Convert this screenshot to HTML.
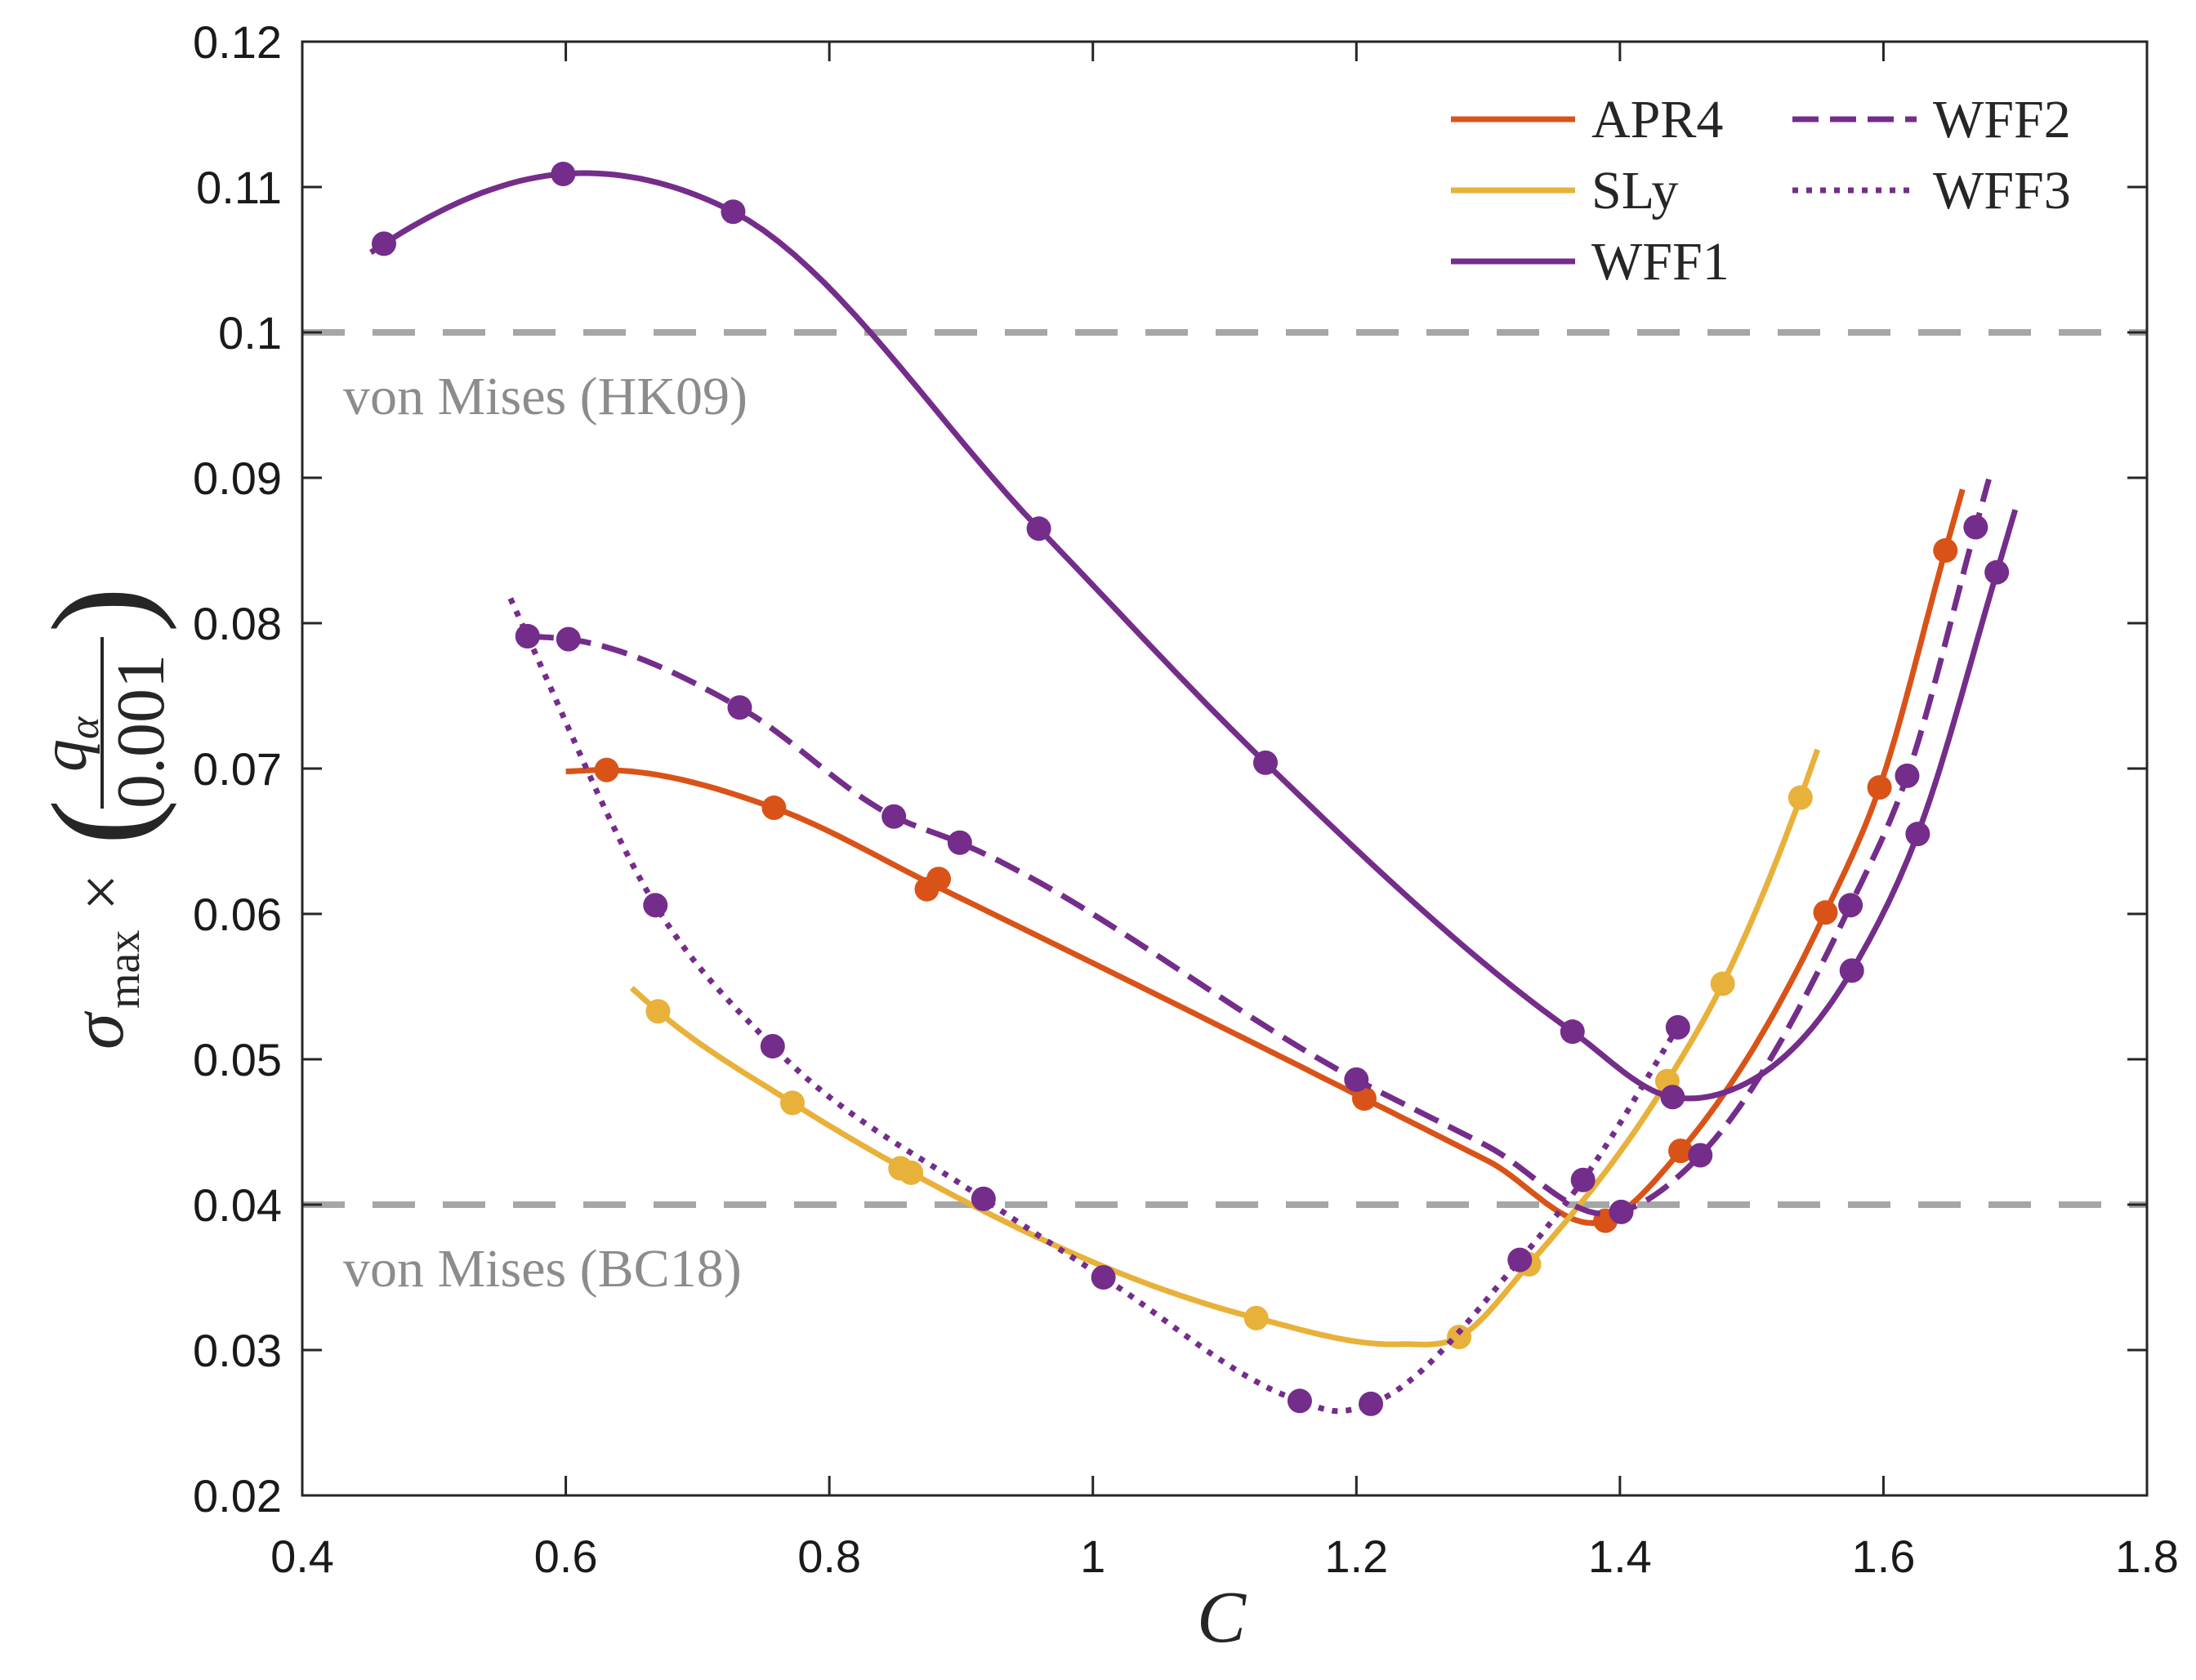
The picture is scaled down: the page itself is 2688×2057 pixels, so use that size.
<!DOCTYPE html>
<html><head><meta charset="utf-8"><style>
html,body{margin:0;padding:0;background:#fff;}
svg{display:block;}
</style></head><body>
<svg id="chart" width="2688" height="2057" viewBox="0 0 2688 2057" xmlns="http://www.w3.org/2000/svg"></svg>
<script>
const xTicks=[0.4,0.6,0.8,1,1.2,1.4,1.6,1.8];
const xTickLabels=["0.4","0.6","0.8","1","1.2","1.4","1.6","1.8"];
const yTicks=[0.02,0.03,0.04,0.05,0.06,0.07,0.08,0.09,0.1,0.11,0.12];
const yTickLabels=["0.02","0.03","0.04","0.05","0.06","0.07","0.08","0.09","0.1","0.11","0.12"];
const refValues=[0.1,0.04];
const refLabels=["von Mises (HK09)","von Mises (BC18)"];
const seriesNames=["APR4","SLy","WFF1","WFF2","WFF3"];
const wff1LineC=[0.452,0.462,0.598,0.727,0.959,1.131,1.364,1.440,1.475,1.576,1.626,1.686,1.700];
const wff1LineV=[0.1055,0.1061,0.1109,0.1083,0.0865,0.0704,0.0519,0.0474,0.0476,0.0561,0.0655,0.0835,0.0878];
const wff1MarkC=[0.462,0.598,0.727,0.959,1.131,1.364,1.440,1.576,1.626,1.686];
const wff1MarkV=[0.1061,0.1109,0.1083,0.0865,0.0704,0.0519,0.0474,0.0561,0.0655,0.0835];
const apr4LineC=[0.600,0.631,0.758,0.879,1.206,1.300,1.389,1.446,1.556,1.597,1.647,1.660];
const apr4LineV=[0.0698,0.0699,0.0673,0.0620,0.0473,0.0430,0.0389,0.0437,0.0601,0.0687,0.0850,0.0892];
const apr4MarkC=[0.631,0.758,0.874,0.883,1.206,1.389,1.446,1.556,1.597,1.647];
const apr4MarkV=[0.0699,0.0673,0.0617,0.0624,0.0473,0.0389,0.0437,0.0601,0.0687,0.0850];
const wff2LineC=[0.571,0.602,0.732,0.849,0.899,1.200,1.300,1.395,1.461,1.575,1.618,1.670,1.680];
const wff2LineV=[0.0791,0.0789,0.0742,0.0667,0.0649,0.0486,0.0440,0.0394,0.0434,0.0606,0.0695,0.0866,0.0899];
const wff2MarkC=[0.571,0.602,0.732,0.849,0.899,1.200,1.401,1.461,1.575,1.618,1.670];
const wff2MarkV=[0.0791,0.0789,0.0742,0.0667,0.0649,0.0486,0.0395,0.0434,0.0606,0.0695,0.0866];
const wff3LineC=[0.558,0.571,0.668,0.757,0.917,1.008,1.157,1.186,1.211,1.324,1.372,1.444];
const wff3LineV=[0.0817,0.0791,0.0606,0.0509,0.0404,0.0350,0.0265,0.0258,0.0263,0.0362,0.0417,0.0522];
const wff3MarkC=[0.571,0.668,0.757,0.917,1.008,1.157,1.211,1.324,1.372,1.444];
const wff3MarkV=[0.0791,0.0606,0.0509,0.0404,0.0350,0.0265,0.0263,0.0362,0.0417,0.0522];
const slyLineC=[0.650,0.670,0.772,0.858,1.124,1.233,1.278,1.331,1.436,1.478,1.537,1.550];
const slyLineV=[0.0549,0.0533,0.0470,0.0424,0.0322,0.0304,0.0309,0.0359,0.0485,0.0552,0.0680,0.0713];
const slyMarkC=[0.670,0.772,0.854,0.862,1.124,1.278,1.331,1.436,1.478,1.537];
const slyMarkV=[0.0533,0.0470,0.0425,0.0422,0.0322,0.0309,0.0359,0.0485,0.0552,0.0680];

const NS="http://www.w3.org/2000/svg";
const svg=document.getElementById('chart');
const L=370,R=2628,T=51,B=1831;
const X0=0.4,X1=1.8,Y0=0.02,Y1=0.12;
function sx(v){return L+(v-X0)/(X1-X0)*(R-L);}
function sy(v){return B-(v-Y0)/(Y1-Y0)*(B-T);}
function mk(tag,attrs,parent){const e=document.createElementNS(NS,tag);for(const k in attrs)e.setAttribute(k,attrs[k]);(parent||svg).appendChild(e);return e;}
function txt(s,attrs,parent){const e=mk('text',attrs,parent);e.textContent=s;return e;}

refValues.forEach((v,i)=>{
  const g=mk('g',{});
  
  
  mk('line',{x1:L,x2:R,y1:sy(v),y2:sy(v),stroke:'#a6a6a6','stroke-width':8,'stroke-dasharray':'52 34'},g);
  const t=txt(refLabels[i],{x:420,y:sy(v)+100,'font-family':'"Liberation Serif",serif','font-size':66,fill:'#8c8c8c'},g);
  
  
});

function path(cs,vs){
  const n=cs.length,m=[];
  const s=[];for(let i=0;i<n-1;i++)s.push((vs[i+1]-vs[i])/(cs[i+1]-cs[i]));
  for(let i=0;i<n;i++){
    if(i===0)m.push(s[0]);else if(i===n-1)m.push(s[n-2]);
    else{const h0=cs[i]-cs[i-1],h1=cs[i+1]-cs[i];m.push((s[i-1]*h1+s[i]*h0)/(h0+h1));}
  }
  let d='';
  for(let i=0;i<n-1;i++){
    const h=cs[i+1]-cs[i];
    for(let k=(i===0?0:1);k<=20;k++){
      const t=k/20,t2=t*t,t3=t2*t;
      const y=(2*t3-3*t2+1)*vs[i]+(t3-2*t2+t)*h*m[i]+(-2*t3+3*t2)*vs[i+1]+(t3-t2)*h*m[i+1];
      const x=cs[i]+t*h;
      d+=(d?' L':'M')+sx(x).toFixed(1)+','+sy(y).toFixed(1);
    }
  }
  return d;
}
const series=[
 {n:'apr4',c:'#d95319',lc:apr4LineC,lv:apr4LineV,mc:apr4MarkC,mv:apr4MarkV,dash:null},
 {n:'sly',c:'#e8b13a',lc:slyLineC,lv:slyLineV,mc:slyMarkC,mv:slyMarkV,dash:null},
 {n:'wff1',c:'#742d8a',lc:wff1LineC,lv:wff1LineV,mc:wff1MarkC,mv:wff1MarkV,dash:null},
 {n:'wff2',c:'#742d8a',lc:wff2LineC,lv:wff2LineV,mc:wff2MarkC,mv:wff2MarkV,dash:'32 14'},
 {n:'wff3',c:'#742d8a',lc:wff3LineC,lv:wff3LineV,mc:wff3MarkC,mv:wff3MarkV,dash:'7 10'}
];
series.forEach(s=>{
  const g=mk('g',{});
  
  
  const a={d:path(s.lc,s.lv),fill:'none',stroke:s.c,'stroke-width':7,'stroke-linejoin':'round'};
  if(s.dash)a['stroke-dasharray']=s.dash;
  const pl=mk('path',a,g);
  
  
  s.mc.forEach((c,i)=>{
    const m=mk('circle',{cx:sx(c),cy:sy(s.mv[i]),r:15,fill:s.c},g);
    
    
  });
});

const ax=mk('g',{});


mk('rect',{x:L,y:T,width:R-L,height:B-T,fill:'none',stroke:'#262626','stroke-width':3},ax);
xTicks.forEach((v,i)=>{
  const x=sx(v);
  mk('line',{x1:x,x2:x,y1:B,y2:B-24,stroke:'#262626','stroke-width':3},ax);
  mk('line',{x1:x,x2:x,y1:T,y2:T+24,stroke:'#262626','stroke-width':3},ax);
  const t=txt(xTickLabels[i],{x:x,y:1925,'text-anchor':'middle','font-family':'"Liberation Sans",sans-serif','font-size':56,fill:'#1a1a1a'},ax);
  
  
});
yTicks.forEach((v,i)=>{
  const y=sy(v);
  mk('line',{x1:L,x2:L+24,y1:y,y2:y,stroke:'#262626','stroke-width':3},ax);
  mk('line',{x1:R,x2:R-24,y1:y,y2:y,stroke:'#262626','stroke-width':3},ax);
  const t=txt(yTickLabels[i],{x:345,y:y+20,'text-anchor':'end','font-family':'"Liberation Sans",sans-serif','font-size':56,fill:'#1a1a1a'},ax);
  
  
});

const xt=txt('C',{x:1495,y:2010,'text-anchor':'middle','font-family':'"Liberation Serif",serif','font-style':'italic','font-size':90,fill:'#262626'});


const yg=mk('g',{transform:'translate(150,945) rotate(-90)'});


txt('σ',{x:-340,y:0,'font-family':'"Liberation Serif",serif','font-style':'italic','font-size':90,fill:'#262626'},yg);
txt('max',{x:-290,y:20,'font-family':'"Liberation Serif",serif','font-size':56,fill:'#262626'},yg);
txt('×',{x:-170,y:0,'font-family':'"Liberation Serif",serif','font-size':80,fill:'#262626'},yg);
txt('(',{x:-90,y:30,'font-family':'"Liberation Serif",serif','font-size':170,fill:'#262626'},yg);
txt('q',{x:0,y:-45,'font-family':'"Liberation Serif",serif','font-style':'italic','font-size':80,fill:'#262626'},yg);
txt('α',{x:40,y:-30,'font-family':'"Liberation Serif",serif','font-style':'italic','font-size':52,fill:'#262626'},yg);
mk('line',{x1:-45,x2:165,y1:-25,y2:-25,stroke:'#262626','stroke-width':4},yg);
txt('0.001',{x:-45,y:50,'font-family':'"Liberation Serif",serif','font-size':84,fill:'#262626'},yg);
txt(')',{x:170,y:30,'font-family':'"Liberation Serif",serif','font-size':170,fill:'#262626'},yg);

const lg=mk('g',{});


const leg=[
 {n:'APR4',c:'#d95319',x:1776,y:146,d:null},
 {n:'SLy',c:'#e8b13a',x:1776,y:233,d:null},
 {n:'WFF1',c:'#742d8a',x:1776,y:320,d:null},
 {n:'WFF2',c:'#742d8a',x:2194,y:146,d:'32 14'},
 {n:'WFF3',c:'#742d8a',x:2194,y:233,d:'7 10'}
];
leg.forEach(e=>{
  const g=mk('g',{},lg);
  
  
  const a={x1:e.x,x2:e.x+152,y1:e.y,y2:e.y,stroke:e.c,'stroke-width':7};
  if(e.d)a['stroke-dasharray']=e.d;
  mk('line',a,g);
  txt(e.n,{x:e.x+172,y:e.y+22,'font-family':'"Liberation Serif",serif','font-size':66,fill:'#262626'},g);
});
</script>
</body></html>
